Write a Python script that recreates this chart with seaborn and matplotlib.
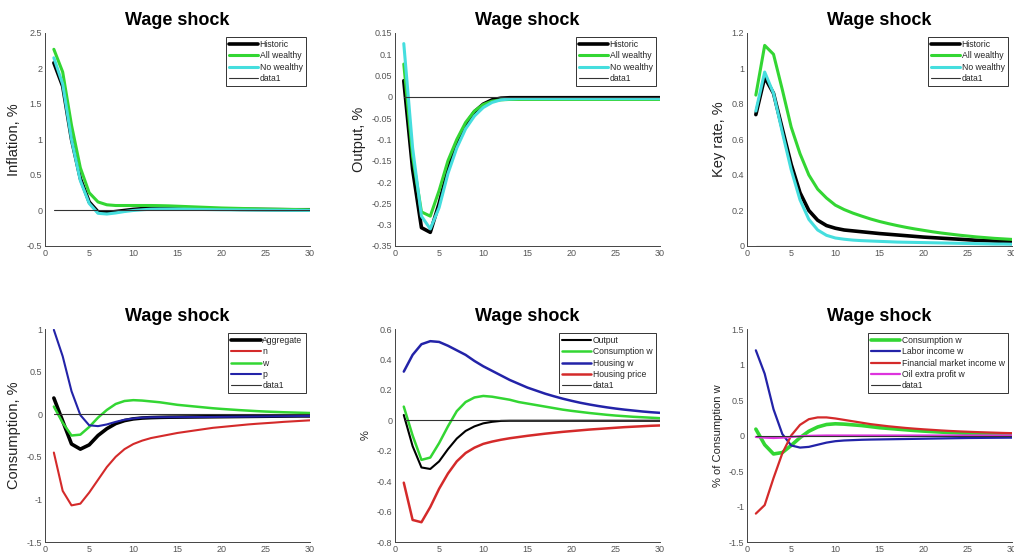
import numpy as np
import pandas as pd
import matplotlib
matplotlib.use("Agg")
import matplotlib.pyplot as plt
import matplotlib.ticker as mticker
import seaborn as sns

periods = np.arange(1, 31)

# inflation
infl_hist = [2.08, 1.75, 1.00, 0.45, 0.12, -0.02, -0.03, -0.015, 0.0, 0.015, 0.025, 0.03, 0.03, 0.03, 0.03,
             0.028, 0.026, 0.024, 0.022, 0.02, 0.018, 0.016, 0.015, 0.014, 0.013, 0.012, 0.011, 0.01, 0.01, 0.01]
infl_allw = [2.27, 1.95, 1.20, 0.60, 0.25, 0.12, 0.08, 0.07, 0.07, 0.07, 0.07, 0.07, 0.068, 0.065, 0.06,
             0.055, 0.05, 0.045, 0.04, 0.035, 0.032, 0.029, 0.026, 0.023, 0.02, 0.018, 0.016, 0.014, 0.012, 0.01]
infl_now = [2.15, 1.78, 1.00, 0.42, 0.10, -0.04, -0.05, -0.035, -0.015, 0.0, 0.01, 0.018, 0.02, 0.02, 0.02,
            0.018, 0.016, 0.014, 0.012, 0.01, 0.009, 0.008, 0.007, 0.006, 0.005, 0.004, 0.003, 0.002, 0.002, 0.001]

# output
out_hist = [0.038, -0.17, -0.307, -0.318, -0.25, -0.17, -0.11, -0.065, -0.035, -0.017, -0.007, -0.003, -0.002,
            -0.002, -0.002, -0.002, -0.002, -0.002, -0.002, -0.002, -0.002, -0.002, -0.002, -0.002, -0.002,
            -0.002, -0.002, -0.002, -0.002, -0.002]
out_allw = [0.077, -0.14, -0.27, -0.28, -0.22, -0.15, -0.10, -0.06, -0.033, -0.018, -0.01, -0.007, -0.006,
            -0.006, -0.006, -0.006, -0.006, -0.006, -0.006, -0.006, -0.006, -0.006, -0.006, -0.006, -0.006,
            -0.006, -0.006, -0.006, -0.006, -0.006]
out_now = [0.125, -0.12, -0.28, -0.31, -0.26, -0.18, -0.12, -0.075, -0.045, -0.025, -0.013, -0.007, -0.005,
           -0.004, -0.004, -0.004, -0.004, -0.004, -0.004, -0.004, -0.004, -0.004, -0.004, -0.004, -0.004,
           -0.004, -0.004, -0.004, -0.004, -0.004]

# key rate
rate_hist = [0.74, 0.95, 0.86, 0.66, 0.46, 0.30, 0.20, 0.145, 0.115, 0.10, 0.09, 0.085, 0.08, 0.075, 0.07,
             0.066, 0.062, 0.058, 0.054, 0.05, 0.047, 0.044, 0.041, 0.038, 0.035, 0.032, 0.03, 0.028, 0.026, 0.024]
rate_allw = [0.85, 1.13, 1.08, 0.88, 0.67, 0.52, 0.40, 0.32, 0.27, 0.23, 0.205, 0.185, 0.168, 0.152, 0.138,
             0.126, 0.115, 0.105, 0.096, 0.088, 0.08, 0.073, 0.067, 0.061, 0.056, 0.051, 0.047, 0.043, 0.04, 0.037]
rate_now = [0.76, 0.98, 0.86, 0.64, 0.43, 0.26, 0.15, 0.09, 0.06, 0.045, 0.038, 0.033, 0.03, 0.028, 0.026,
            0.024, 0.022, 0.021, 0.02, 0.019, 0.018, 0.017, 0.016, 0.015, 0.014, 0.013, 0.012, 0.011, 0.011, 0.01]

# consumption
cons_agg = [0.19, -0.08, -0.35, -0.41, -0.36, -0.25, -0.17, -0.11, -0.075, -0.055, -0.045, -0.04, -0.037,
            -0.035, -0.034, -0.033, -0.032, -0.031, -0.03, -0.029, -0.028, -0.027, -0.026, -0.025, -0.024,
            -0.023, -0.022, -0.021, -0.02, -0.02]
cons_n = [-0.45, -0.90, -1.07, -1.05, -0.92, -0.77, -0.62, -0.50, -0.41, -0.35, -0.31, -0.28, -0.26, -0.24,
          -0.22, -0.205, -0.19, -0.175, -0.16, -0.15, -0.14, -0.13, -0.12, -0.112, -0.105, -0.098, -0.09,
          -0.084, -0.078, -0.072]
cons_w = [0.09, -0.10, -0.25, -0.24, -0.15, -0.04, 0.05, 0.12, 0.155, 0.165, 0.16, 0.15, 0.14, 0.125, 0.11,
          0.10, 0.09, 0.08, 0.07, 0.062, 0.055, 0.048, 0.042, 0.036, 0.031, 0.027, 0.023, 0.02, 0.017, 0.014]
cons_p = [0.99, 0.68, 0.27, -0.01, -0.13, -0.14, -0.12, -0.09, -0.065, -0.05, -0.04, -0.036, -0.035, -0.035,
          -0.034, -0.034, -0.033, -0.033, -0.032, -0.031, -0.03, -0.029, -0.028, -0.027, -0.026, -0.025,
          -0.024, -0.023, -0.022, -0.021]

# housing block
hb_output = [0.035, -0.17, -0.31, -0.32, -0.27, -0.19, -0.12, -0.07, -0.04, -0.02, -0.01, -0.004, -0.003,
             -0.003, -0.003, -0.003, -0.003, -0.003, -0.003, -0.003, -0.003, -0.003, -0.003, -0.003, -0.003,
             -0.003, -0.003, -0.003, -0.003, -0.003]
hb_cons_w = [0.09, -0.10, -0.26, -0.245, -0.15, -0.04, 0.06, 0.12, 0.15, 0.16, 0.155, 0.145, 0.135, 0.12,
             0.11, 0.10, 0.09, 0.08, 0.07, 0.062, 0.055, 0.048, 0.042, 0.036, 0.031, 0.027, 0.023, 0.02,
             0.017, 0.014]
hb_housing_w = [0.32, 0.43, 0.50, 0.52, 0.515, 0.49, 0.46, 0.43, 0.39, 0.355, 0.325, 0.295, 0.265, 0.24,
                0.215, 0.195, 0.175, 0.158, 0.142, 0.128, 0.115, 0.104, 0.094, 0.085, 0.077, 0.07, 0.064,
                0.058, 0.053, 0.049]
hb_price = [-0.41, -0.655, -0.67, -0.57, -0.45, -0.35, -0.27, -0.215, -0.18, -0.155, -0.14, -0.128, -0.118,
            -0.11, -0.102, -0.095, -0.088, -0.082, -0.076, -0.071, -0.066, -0.061, -0.057, -0.053, -0.049,
            -0.045, -0.042, -0.039, -0.036, -0.034]

# income decomposition
dec_cons_w = [0.09, -0.13, -0.26, -0.24, -0.14, -0.03, 0.06, 0.12, 0.155, 0.165, 0.16, 0.15, 0.14, 0.125,
              0.11, 0.10, 0.09, 0.08, 0.07, 0.062, 0.055, 0.048, 0.042, 0.036, 0.031, 0.027, 0.023, 0.02,
              0.017, 0.014]
dec_labor = [1.20, 0.87, 0.37, 0.02, -0.14, -0.17, -0.16, -0.13, -0.10, -0.08, -0.07, -0.065, -0.06, -0.057,
             -0.055, -0.053, -0.051, -0.049, -0.047, -0.045, -0.043, -0.041, -0.039, -0.037, -0.035, -0.034,
             -0.033, -0.032, -0.031, -0.03]
dec_fin = [-1.10, -0.98, -0.60, -0.25, 0.0, 0.15, 0.23, 0.255, 0.255, 0.24, 0.22, 0.20, 0.18, 0.16, 0.145,
           0.13, 0.118, 0.106, 0.096, 0.087, 0.079, 0.071, 0.064, 0.058, 0.053, 0.048, 0.044, 0.04, 0.036, 0.033]
dec_oil = [-0.02, -0.03, -0.035, -0.03, -0.02, -0.01, -0.005, -0.002, 0.0, 0.0, 0.0, 0.0, 0.0, 0.0, 0.0,
           0.0, 0.0, 0.0, 0.0, 0.0, 0.0, 0.0, 0.0, 0.0, 0.0, 0.0, 0.0, 0.0, 0.0, 0.0]

zero_line = [0.0] * 30

BLACK = "black"
GREEN = "#33d633"
CYAN = "#45dede"
RED = "#d42a2a"
BLUE = "#2323a8"
MAGENTA = "#dd33dd"

sns.set_style("white")
plt.rcParams['font.family'] = ['Liberation Sans', 'DejaVu Sans']
plt.rcParams['xtick.direction'] = 'in'
plt.rcParams['ytick.direction'] = 'in'

fig = plt.figure(figsize=(10.14, 5.55), dpi=100)

lefts = [0.0444, 0.3895, 0.7367]
bottoms = [0.5568, 0.0234]
w, h = 0.2613, 0.3838

panels = [
    dict(series=[(infl_hist, BLACK, 2.6, "Historic"), (infl_allw, GREEN, 2.2, "All wealthy"),
                 (infl_now, CYAN, 2.2, "No wealthy")],
         ylim=(-0.5, 2.5), ystep=0.5, ylabel="Inflation, %", ylsize=10.5),
    dict(series=[(out_hist, BLACK, 2.6, "Historic"), (out_allw, GREEN, 2.2, "All wealthy"),
                 (out_now, CYAN, 2.2, "No wealthy")],
         ylim=(-0.35, 0.15), ystep=0.05, ylabel="Output, %", ylsize=10.5),
    dict(series=[(rate_hist, BLACK, 2.6, "Historic"), (rate_allw, GREEN, 2.2, "All wealthy"),
                 (rate_now, CYAN, 2.2, "No wealthy")],
         ylim=(0, 1.2), ystep=0.2, ylabel="Key rate, %", ylsize=10.5),
    dict(series=[(cons_agg, BLACK, 2.6, "Aggregate"), (cons_n, RED, 1.5, "n"),
                 (cons_w, GREEN, 1.8, "w"), (cons_p, BLUE, 1.5, "p")],
         ylim=(-1.5, 1.0), ystep=0.5, ylabel="Consumption, %", ylsize=10.5),
    dict(series=[(hb_output, BLACK, 1.5, "Output"), (hb_cons_w, GREEN, 1.8, "Consumption w"),
                 (hb_housing_w, BLUE, 1.8, "Housing w"), (hb_price, RED, 1.8, "Housing price")],
         ylim=(-0.8, 0.6), ystep=0.2, ylabel="%", ylsize=8),
    dict(series=[(dec_cons_w, GREEN, 2.6, "Consumption w"), (dec_labor, BLUE, 1.6, "Labor income w"),
                 (dec_fin, RED, 1.6, "Financial market income w"), (dec_oil, MAGENTA, 1.6, "Oil extra profit w")],
         ylim=(-1.5, 1.5), ystep=0.5, ylabel="% of Consumption w", ylsize=8),
]

for i, p in enumerate(panels):
    ax = fig.add_axes([lefts[i % 3], bottoms[i // 3], w, h])
    for vals, col, lw, lab in p["series"]:
        sns.lineplot(x=periods, y=vals, ax=ax, color=col, linewidth=lw, label=lab)
    sns.lineplot(x=periods, y=zero_line, ax=ax, color="#333333", linewidth=0.8, label="data1")

    ax.set_xlim(0, 30)
    ax.set_ylim(*p["ylim"])
    ax.xaxis.set_major_locator(mticker.MultipleLocator(5))
    ax.yaxis.set_major_locator(mticker.MultipleLocator(p["ystep"]))
    ax.yaxis.set_major_formatter(mticker.FuncFormatter(lambda v, pos: "%g" % round(v, 4)))
    ax.tick_params(labelsize=6.5, colors="#555555", length=3, width=0.6, pad=2)
    for s in ["left", "bottom"]:
        ax.spines[s].set_color("#444444")
        ax.spines[s].set_linewidth(0.7)
    sns.despine(ax=ax)
    ax.set_title("Wage shock", fontsize=13, fontweight="bold", pad=6, color="black")
    ax.set_ylabel(p["ylabel"], fontsize=p["ylsize"], color="#222222")
    ax.set_xlabel("")
    leg = ax.legend(loc="upper right", fontsize=6.2, frameon=True, fancybox=False,
                    edgecolor="black", handlelength=3.4, borderaxespad=0.5,
                    labelspacing=0.25, borderpad=0.35, handletextpad=0.2)
    leg.get_frame().set_linewidth(0.7)

fig.savefig("out.png", dpi=100)
